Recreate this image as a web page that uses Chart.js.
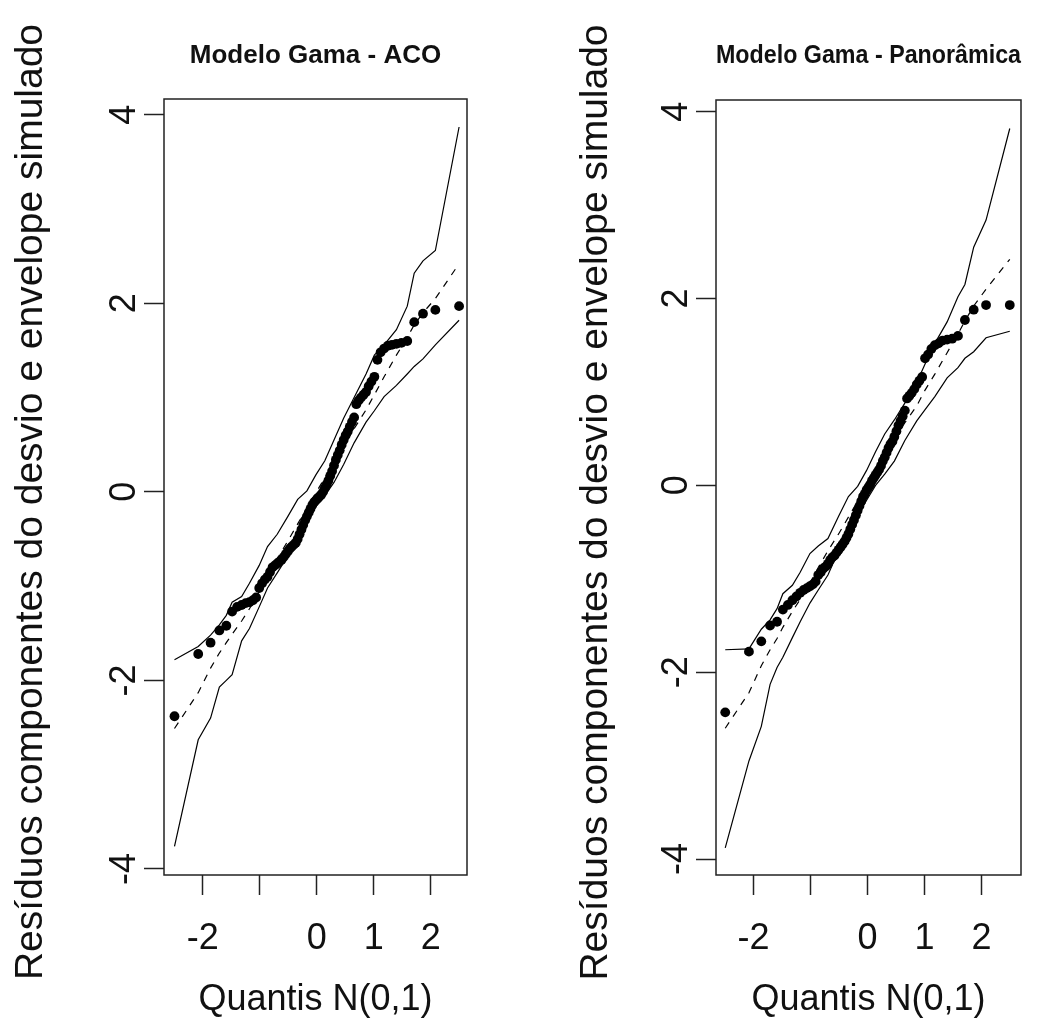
<!DOCTYPE html>
<html lang="pt">
<head>
<meta charset="UTF-8">
<title>Modelo Gama - envelope simulado</title>
<script src="https://cdn.jsdelivr.net/npm/chart.js"></script>
<style>
    body { margin: 0; background: #fff; }
    #wrap { position: relative; width: 1046px; height: 1029px; }
    canvas { position: absolute; top: 0; }
    #graficoACO { left: 0; }
    #graficoPan { left: 523px; }
</style>
</head>
<body>
<div id="wrap">
    <canvas id="graficoACO" width="523" height="1029"></canvas>
    <canvas id="graficoPan" width="523" height="1029"></canvas>
</div>
<script>
// quantis teoricos N(0,1), n = 80
const quantis = [
    -2.496, -2.080, -1.863, -1.709, -1.587, -1.485, -1.397, -1.318, -1.247, -1.181,
    -1.120, -1.064, -1.010, -0.959, -0.910, -0.864, -0.820, -0.776, -0.735, -0.694,
    -0.655, -0.617, -0.579, -0.543, -0.507, -0.471, -0.437, -0.402, -0.368, -0.335,
    -0.302, -0.269, -0.237, -0.204, -0.173, -0.141, -0.110, -0.078, -0.047, -0.016,
    0.016, 0.047, 0.078, 0.110, 0.141, 0.173, 0.204, 0.237, 0.269, 0.302,
    0.335, 0.368, 0.402, 0.437, 0.471, 0.507, 0.543, 0.579, 0.617, 0.655,
    0.694, 0.735, 0.776, 0.820, 0.864, 0.910, 0.959, 1.010, 1.064, 1.120,
    1.181, 1.247, 1.318, 1.397, 1.485, 1.587, 1.709, 1.863, 2.080, 2.496
];

// residuos componentes do desvio (ordenados)
const residuosACO = [
    -2.38, -1.72, -1.60, -1.47, -1.42, -1.27, -1.22, -1.20, -1.18, -1.17,
    -1.15, -1.12, -1.02, -0.97, -0.93, -0.90, -0.85, -0.80, -0.78, -0.76,
    -0.74, -0.72, -0.69, -0.66, -0.63, -0.60, -0.58, -0.56, -0.54, -0.50,
    -0.45, -0.40, -0.35, -0.30, -0.26, -0.22, -0.18, -0.14, -0.11, -0.09,
    -0.07, -0.05, -0.03, 0.00, 0.04, 0.08, 0.12, 0.17, 0.22, 0.28,
    0.34, 0.39, 0.44, 0.50, 0.55, 0.60, 0.64, 0.69, 0.74, 0.79,
    0.93, 0.97, 1.00, 1.03, 1.06, 1.12, 1.17, 1.22, 1.40, 1.48,
    1.52, 1.55, 1.56, 1.57, 1.58, 1.60, 1.80, 1.89, 1.93, 1.97
];
const residuosPan = [
    -2.43, -1.78, -1.67, -1.50, -1.46, -1.33, -1.28, -1.23, -1.19, -1.15,
    -1.12, -1.10, -1.08, -1.06, -1.03, -0.96, -0.93, -0.89, -0.87, -0.84,
    -0.80, -0.77, -0.75, -0.72, -0.69, -0.66, -0.63, -0.60, -0.56, -0.52,
    -0.47, -0.42, -0.37, -0.32, -0.27, -0.22, -0.17, -0.12, -0.09, -0.05,
    -0.02, 0.01, 0.05, 0.08, 0.11, 0.14, 0.17, 0.21, 0.26, 0.30,
    0.35, 0.40, 0.44, 0.47, 0.52, 0.58, 0.64, 0.69, 0.74, 0.80,
    0.93, 0.96, 0.99, 1.03, 1.08, 1.12, 1.16, 1.36, 1.40, 1.46,
    1.50, 1.52, 1.55, 1.56, 1.57, 1.60, 1.77, 1.88, 1.93, 1.93
];

// envelope lido nestes quantis
const quantisEnv = [
    -2.496, -2.080, -1.863, -1.709, -1.587, -1.485, -1.318, -1.181, -1.010, -0.864,
    -0.694, -0.507, -0.335, -0.173, -0.016, 0.141, 0.302, 0.471, 0.655, 0.864,
    1.010, 1.181, 1.397, 1.587, 1.709, 1.863, 2.080, 2.496
];
const envSupACO = [
    -1.78, -1.64, -1.52, -1.41, -1.31, -1.17, -1.11, -0.97, -0.78, -0.58,
    -0.45, -0.26, -0.08, 0.01, 0.18, 0.33, 0.55, 0.78, 1.00, 1.25,
    1.45, 1.56, 1.72, 1.97, 2.32, 2.45, 2.56, 3.87
];
const envMedACO = [
    -2.51, -2.13, -1.87, -1.71, -1.60, -1.51, -1.37, -1.24, -1.06, -0.89,
    -0.71, -0.52, -0.34, -0.17, -0.01, 0.15, 0.31, 0.48, 0.67, 0.87,
    1.03, 1.22, 1.45, 1.64, 1.77, 1.90, 2.05, 2.42
];
const envInfACO = [
    -3.76, -2.63, -2.40, -2.07, -2.00, -1.94, -1.58, -1.45, -1.22, -1.02,
    -0.86, -0.68, -0.49, -0.31, -0.15, -0.04, 0.10, 0.29, 0.52, 0.74,
    0.86, 1.01, 1.13, 1.25, 1.33, 1.41, 1.56, 1.82
];
const envSupPan = [
    -1.76, -1.75, -1.54, -1.44, -1.32, -1.16, -1.07, -0.93, -0.73, -0.65,
    -0.57, -0.33, -0.12, -0.01, 0.16, 0.36, 0.55, 0.70, 0.88, 1.10,
    1.30, 1.52, 1.75, 2.02, 2.15, 2.55, 2.84, 3.82
];
const envMedPan = [
    -2.60, -2.22, -1.93, -1.76, -1.64, -1.52, -1.35, -1.22, -1.05, -0.88,
    -0.70, -0.52, -0.34, -0.17, -0.01, 0.15, 0.31, 0.49, 0.67, 0.85,
    1.02, 1.19, 1.42, 1.62, 1.76, 1.92, 2.10, 2.42
];
const envInfPan = [
    -3.88, -2.95, -2.58, -2.13, -1.95, -1.84, -1.63, -1.46, -1.26, -1.12,
    -0.96, -0.70, -0.52, -0.32, -0.16, 0.00, 0.12, 0.26, 0.48, 0.69,
    0.81, 0.95, 1.15, 1.26, 1.36, 1.43, 1.58, 1.65
];

const yTicks = [-4, -2, 0, 2, 4];
const xTicks = [-2, -1, 0, 1, 2];
const xTickLabels = ['-2', '', '0', '1', '2'];

const fonte = "'Liberation Sans', Arial, sans-serif";
const tinta = '#111';

function pares(xs, ys) {
    return xs.map((x, i) => ({ x: x, y: ys[i] }));
}

// moldura do grafico (box do R)
const caixa = {
    id: 'caixa',
    afterLayout(chart) {
        // desce o titulo do eixo y (so afeta o titulo, os pixels ja foram configurados)
        const y = chart.scales.y;
        y.top += 15;
        y.bottom += 15;
    },
    afterDraw(chart) {
        const a = chart.chartArea;
        const ctx = chart.ctx;
        ctx.save();
        ctx.strokeStyle = '#222';
        ctx.lineWidth = 1.5;
        ctx.strokeRect(a.left, a.top, a.right - a.left, a.bottom - a.top);
        ctx.restore();
    }
};

function linha(dados, tracejado) {
    return {
        data: dados,
        showLine: true,
        borderColor: '#000',
        borderWidth: 1.2,
        borderDash: tracejado ? [7, 7] : [],
        pointRadius: 0,
        fill: false,
        tension: 0
    };
}

function criarGrafico(id, titulo, res, inf, med, sup, geo) {
    const ctx = document.getElementById(id).getContext('2d');
    return new Chart(ctx, {
        type: 'scatter',
        data: {
            datasets: [
                linha(pares(quantisEnv, inf), false),
                linha(pares(quantisEnv, med), true),
                linha(pares(quantisEnv, sup), false),
                {
                    data: pares(quantis, res),
                    backgroundColor: '#000',
                    borderWidth: 0,
                    pointRadius: 4.9,
                    pointHoverRadius: 4.9
                }
            ]
        },
        options: {
            responsive: false,
            animation: false,
            devicePixelRatio: 1,
            layout: { padding: { left: 0, right: geo.dir, top: 0, bottom: 0 } },
            plugins: {
                legend: { display: false },
                tooltip: { enabled: false },
                title: {
                    display: true,
                    text: titulo,
                    fullSize: false,
                    color: tinta,
                    font: { family: fonte, size: 26, weight: 'bold' },
                    padding: { top: 40, bottom: geo.topo - 40 - 31.2 }
                }
            },
            scales: {
                x: {
                    type: 'linear',
                    min: geo.xMin,
                    max: geo.xMax,
                    afterBuildTicks: s => { s.ticks = xTicks.map(v => ({ value: v })); },
                    afterFit: s => { s.height = 1029 - 875; },
                    grid: { drawOnChartArea: false, drawTicks: true, tickLength: 20, tickColor: '#222', tickWidth: 1.5 },
                    border: { display: false },
                    ticks: {
                        color: tinta,
                        font: { family: fonte, size: 36 },
                        padding: 22,
                        minRotation: 0,
                        maxRotation: 0,
                        autoSkip: false,
                        callback: (v, i) => xTickLabels[i]
                    },
                    title: {
                        display: true,
                        text: 'Quantis N(0,1)',
                        color: tinta,
                        font: { family: fonte, size: 36 },
                        padding: { top: 0, bottom: 7 }
                    }
                },
                y: {
                    type: 'linear',
                    min: geo.yMin,
                    max: geo.yMax,
                    afterBuildTicks: s => { s.ticks = yTicks.map(v => ({ value: v })); },
                    afterFit: s => { s.width = geo.eixo; },
                    grid: { drawOnChartArea: false, drawTicks: true, tickLength: 20, tickColor: '#222', tickWidth: 1.5 },
                    border: { display: false },
                    ticks: {
                        color: tinta,
                        font: { family: fonte, size: 36 },
                        padding: 3,
                        minRotation: 90,
                        maxRotation: 90,
                        crossAlign: 'center',
                        autoSkip: false,
                        callback: v => String(v)
                    },
                    title: {
                        display: true,
                        text: 'Resíduos componentes do desvio e envelope simulado',
                        color: tinta,
                        font: { family: fonte, size: 39 },
                        padding: { top: geo.rotulo, bottom: 0 }
                    }
                }
            }
        },
        plugins: [caixa]
    });
}

document.addEventListener('DOMContentLoaded', function () {
    criarGrafico('graficoACO', 'Modelo Gama - ACO', residuosACO, envInfACO, envMedACO, envSupACO,
        { eixo: 164, dir: 56, topo: 99, rotulo: 8, xMin: -2.68, xMax: 2.635, yMin: -4.064, yMax: 4.167 });
    criarGrafico('graficoPan', 'Modelo Gama - Panorâmica', residuosPan, envInfPan, envMedPan, envSupPan,
        { eixo: 193, dir: 25, topo: 100, rotulo: 50, xMin: -2.658, xMax: 2.693, yMin: -4.171, yMax: 4.125 });
});
</script>
</body>
</html>
